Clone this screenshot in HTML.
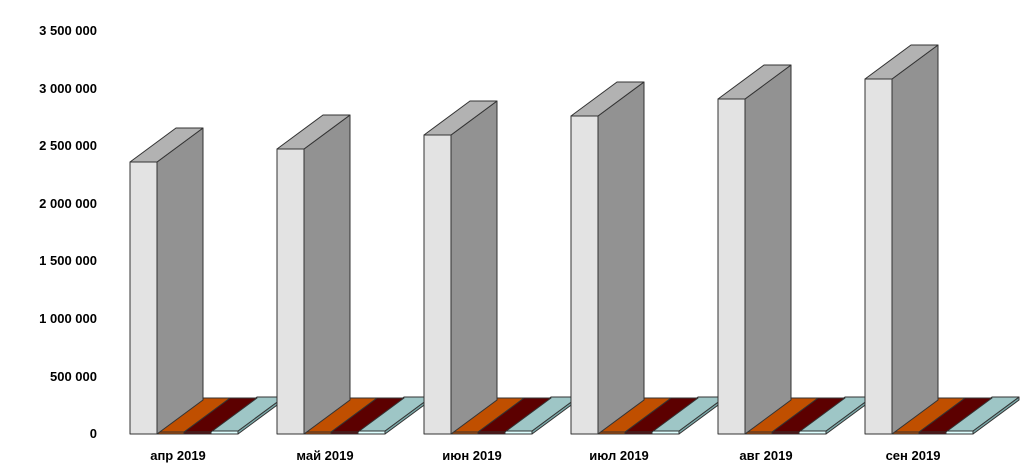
<!DOCTYPE html>
<html><head><meta charset="utf-8"><style>body{margin:0;background:#fff}svg{display:block}text{font-family:"Liberation Sans",Arial,sans-serif;font-weight:bold;font-size:13px;fill:#000}</style></head><body>
<svg width="1031" height="472" viewBox="0 0 1031 472">
<defs>
<g id="sm" stroke="#333" stroke-width="1" stroke-linejoin="round">
<polygon points="108,431 154,397 154,400 108,434" fill="#7aa8a8"/>
<polygon points="81,431 108,431 154,397 127,397" fill="#9ec6c6"/>
<polygon points="81,431 108,431 108,434 81,434" fill="#dff"/>
<polygon points="54,432 81,432 127,398 100,398" fill="#5c0000"/>
<polygon points="54,432 81,432 81,434 54,434" fill="#5c0000"/>
<polygon points="27,432 54,432 100,398 73,398" fill="#c04f00"/>
<polygon points="27,432 54,432 54,434 27,434" fill="#c04f00"/>
</g>
</defs>
<g text-anchor="end">
<text x="97" y="438">0</text><text x="97" y="381">500 000</text><text x="97" y="323">1 000 000</text><text x="97" y="265">1 500 000</text><text x="97" y="208">2 000 000</text><text x="97" y="150">2 500 000</text><text x="97" y="93">3 000 000</text><text x="97" y="35">3 500 000</text>
</g>
<g stroke="#333" stroke-width="1" stroke-linejoin="round">
<g transform="translate(130,0)"><use href="#sm"/>
<polygon points="27,162 73,128 73,400 27,434" fill="#929292"/><polygon points="0,162 27,162 73,128 46,128" fill="#b2b2b2"/><rect x="0" y="162" width="27" height="272" fill="#e3e3e3"/></g>
<g transform="translate(277,0)"><use href="#sm"/>
<polygon points="27,149 73,115 73,400 27,434" fill="#929292"/><polygon points="0,149 27,149 73,115 46,115" fill="#b2b2b2"/><rect x="0" y="149" width="27" height="285" fill="#e3e3e3"/></g>
<g transform="translate(424,0)"><use href="#sm"/>
<polygon points="27,135 73,101 73,400 27,434" fill="#929292"/><polygon points="0,135 27,135 73,101 46,101" fill="#b2b2b2"/><rect x="0" y="135" width="27" height="299" fill="#e3e3e3"/></g>
<g transform="translate(571,0)"><use href="#sm"/>
<polygon points="27,116 73,82 73,400 27,434" fill="#929292"/><polygon points="0,116 27,116 73,82 46,82" fill="#b2b2b2"/><rect x="0" y="116" width="27" height="318" fill="#e3e3e3"/></g>
<g transform="translate(718,0)"><use href="#sm"/>
<polygon points="27,99 73,65 73,400 27,434" fill="#929292"/><polygon points="0,99 27,99 73,65 46,65" fill="#b2b2b2"/><rect x="0" y="99" width="27" height="335" fill="#e3e3e3"/></g>
<g transform="translate(865,0)"><use href="#sm"/>
<polygon points="27,79 73,45 73,400 27,434" fill="#929292"/><polygon points="0,79 27,79 73,45 46,45" fill="#b2b2b2"/><rect x="0" y="79" width="27" height="355" fill="#e3e3e3"/></g>
</g>
<g text-anchor="middle">
<text x="178" y="460">апр 2019</text><text x="325" y="460">май 2019</text><text x="472" y="460">июн 2019</text><text x="619" y="460">июл 2019</text><text x="766" y="460">авг 2019</text><text x="913" y="460">сен 2019</text>
</g>
</svg></body></html>
